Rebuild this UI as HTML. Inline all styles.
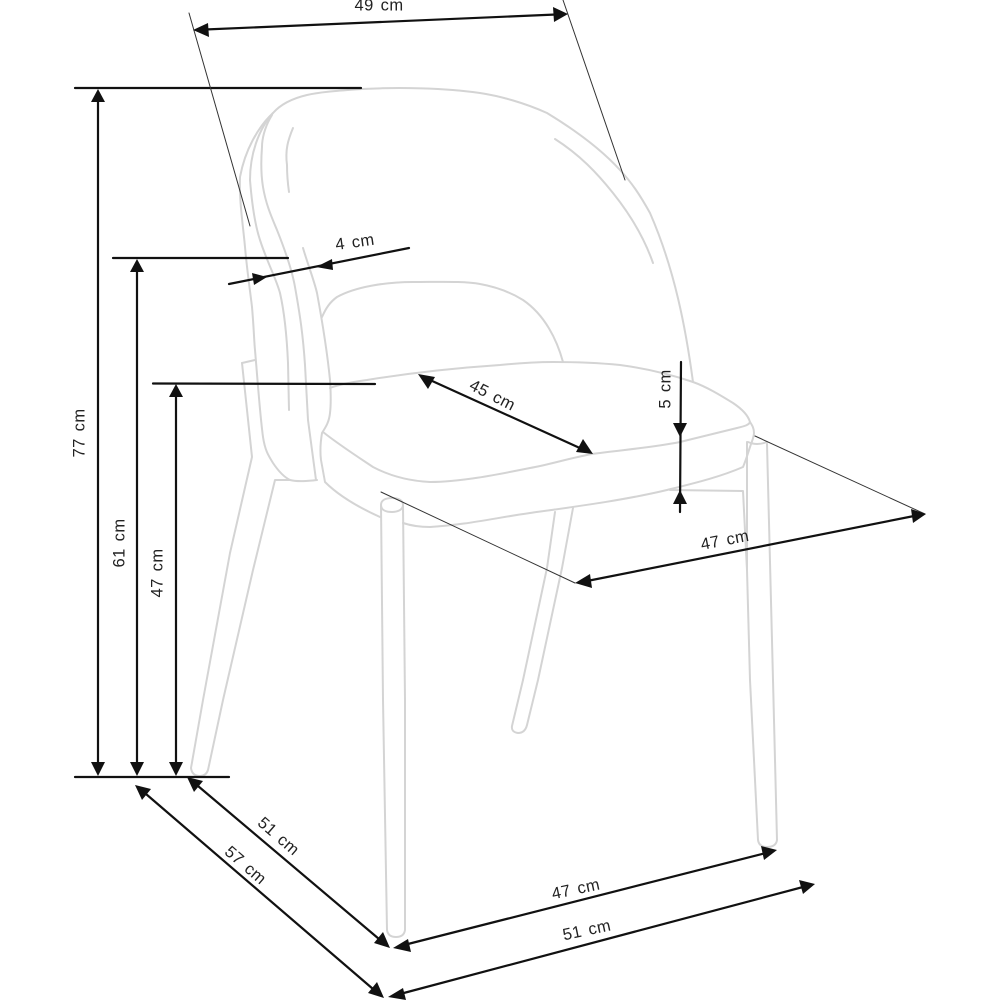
<!DOCTYPE html>
<html><head><meta charset="utf-8"><style>
html,body{margin:0;padding:0;background:#fff}
svg{display:block;filter:blur(.35px)}
text{font-family:"Liberation Sans",sans-serif;font-size:16.500px;letter-spacing:.4px;word-spacing:2px;fill:#222;text-anchor:middle;dominant-baseline:middle}
</style></head><body>
<svg width="1000" height="1000" viewBox="0 0 1000 1000" xmlns="http://www.w3.org/2000/svg">
<g fill="none" stroke="#d4d4d4" stroke-width="2" stroke-linecap="round" stroke-linejoin="round">
<!-- back outer -->
<path d="M693 382C686 330 675 270 650 213C640 195 632 183 620 170C600 148 575 130 547 113C525 103 500 96 480 93C445 88 400 87 362 89C335 91 320 92 307 95C290 99 280 105 273 113C258 127 245 150 240 177C239 200 243 225 245 247C247 270 250 290 252 307C254 330 254 340 255 350C258 385 260 415 263 437C265 450 268 455 273 463C279 472 284 477 290 480C298 482 308 481 317 480"/>
<path d="M273 113C258 130 250 155 250 180C252 205 255 225 260 240C267 262 276 278 280 293C285 315 287 340 288 363L289 410"/>
<path d="M272 115C264 128 262 140 262 147C261 160 261 175 263 187C266 205 272 218 277 230C285 250 292 270 295 287C300 315 303 335 305 365L308 420L316 480"/>
<path d="M303 248C308 265 314 280 317 293C322 320 327 350 330 380C331 395 331 405 330 413C329 423 325 428 322 433C320 445 320 452 321 460L325 482C340 497 360 508 380 517"/>
<path d="M293 128C288 140 285 150 287 165C287 175 288 185 289 192"/>
<path d="M555 139C580 155 597 173 613 193C633 218 645 240 653 263"/>
<!-- opening -->
<path d="M322 317C326 308 330 302 337 297C355 287 385 282 413 282C440 282 465 281 480 284C497 287 510 292 523 300C545 315 557 340 563 362"/>
<!-- seat -->
<path d="M330 388C340 384 352 382 367 380C410 373 455 368 500 365C520 363 535 362 553 362C580 362 600 363 620 365C650 369 672 375 693 382C707 387 720 395 733 403C742 409 748 415 750 422C749 425 745 426 737 428C720 432 700 437 680 442C650 448 620 450 592 454C570 458 548 465 530 468C495 475 460 482 430 482C410 481 390 476 373 467C355 455 338 444 323 432"/>
<path d="M403 523C412 526 420 527 430 527C465 525 495 518 530 513C580 506 625 500 667 490C695 483 720 477 743 467C746 460 748 453 750 447C752 441 754 437 754 433C754 428 752 425 750 422"/>
<!-- front left leg -->
<path d="M381 505C381 500 386 498 392 498C398 498 403 500 403 505C403 510 397 512 392 512C386 512 381 510 381 505Z"/>
<path d="M381 505L383 700L387 930Q388 937 396 937Q404 937 405 930L405 700L403 505"/>
<!-- front right leg -->
<path d="M748 442Q757 446 767 442"/>
<path d="M747 442L747 570L750 680L758 840Q759 847 767 847Q776 847 777 840L773 680L767 444"/>
<path d="M670 490L743 491L747 570"/>
<!-- rear right leg -->
<path d="M555 512L547 568L523 680"/>
<path d="M573 508L562 568L538 680L527 725Q525 733 518 733Q511 732 512 726L523 680"/>
<!-- rear left leg -->
<path d="M242 363L255 360"/>
<path d="M242 363L252 457L230 553L203 700L191 768Q192 776 200 776Q206 776 208 770L223 700L253 570L275 480L290 480"/>
</g>
<g fill="none" stroke="#111" stroke-linecap="round">
<g stroke-width="2.200">
<path d="M75 88H361M113 258H288M153 383.500L375 384M75 777H229"/>
<path d="M98 100V765M137 270V765M176 395V765"/>
<path d="M205 29.500L556 14.500M229 284L409 248M430 380L582 449M681 362L680 512M587 581L914 516M198 786L379 939M146 794L373 989M404 945L766 853M400 994L803 887"/>
</g>
<path stroke-width="1" stroke="#333" d="M189 13L250 226M563 0L625 180M381 492L575 583M755 436L925 514"/>
</g>
<g fill="#111" stroke="none">
<polygon points="98,89 91,102 105,102"/>
<polygon points="98,776 91,762 105,762"/>
<polygon points="137,259 130,272 144,272"/>
<polygon points="137,776 130,762 144,762"/>
<polygon points="176,384 169,397 183,397"/>
<polygon points="176,776 169,762 183,762"/>
<polygon points="193,30 208,23 209,37"/>
<polygon points="568,14 553,7 554,22"/>
<polygon points="267,277 252,273 254,285"/>
<polygon points="316,267 332,259 333,270"/>
<polygon points="418,374 435,377 428,389"/>
<polygon points="593,454 576,452 583,439"/>
<polygon points="680,437 673,423 687,423"/>
<polygon points="680,490 673,504 687,504"/>
<polygon points="575,583 590,574 592,588"/>
<polygon points="926,514 911,509 913,523"/>
<polygon points="187,777 203,781 194,792"/>
<polygon points="390,948 374,943 383,932"/>
<polygon points="135,785 151,789 142,800"/>
<polygon points="384,998 368,993 377,982"/>
<polygon points="393,948 408,939 411,952"/>
<polygon points="777,850 761,846 764,860"/>
<polygon points="388,997 403,988 406,1000"/>
<polygon points="815,884 799,880 803,894"/>
</g>
<text x="379" y="6">49 cm</text>
<text transform="translate(80 433) rotate(-90)">77 cm</text>
<text transform="translate(120 543) rotate(-90)">61 cm</text>
<text transform="translate(158 573) rotate(-90)">47 cm</text>
<text transform="translate(355 243) rotate(-8)">4 cm</text>
<text transform="translate(492 396) rotate(27)">45 cm</text>
<text transform="translate(666 389) rotate(-90)">5 cm</text>
<text transform="translate(725 541) rotate(-11)">47 cm</text>
<text transform="translate(278 837) rotate(41)">51 cm</text>
<text transform="translate(245 866) rotate(41)">57 cm</text>
<text transform="translate(576 890) rotate(-12)">47 cm</text>
<text transform="translate(587 931) rotate(-12)">51 cm</text>
</svg>
</body></html>
